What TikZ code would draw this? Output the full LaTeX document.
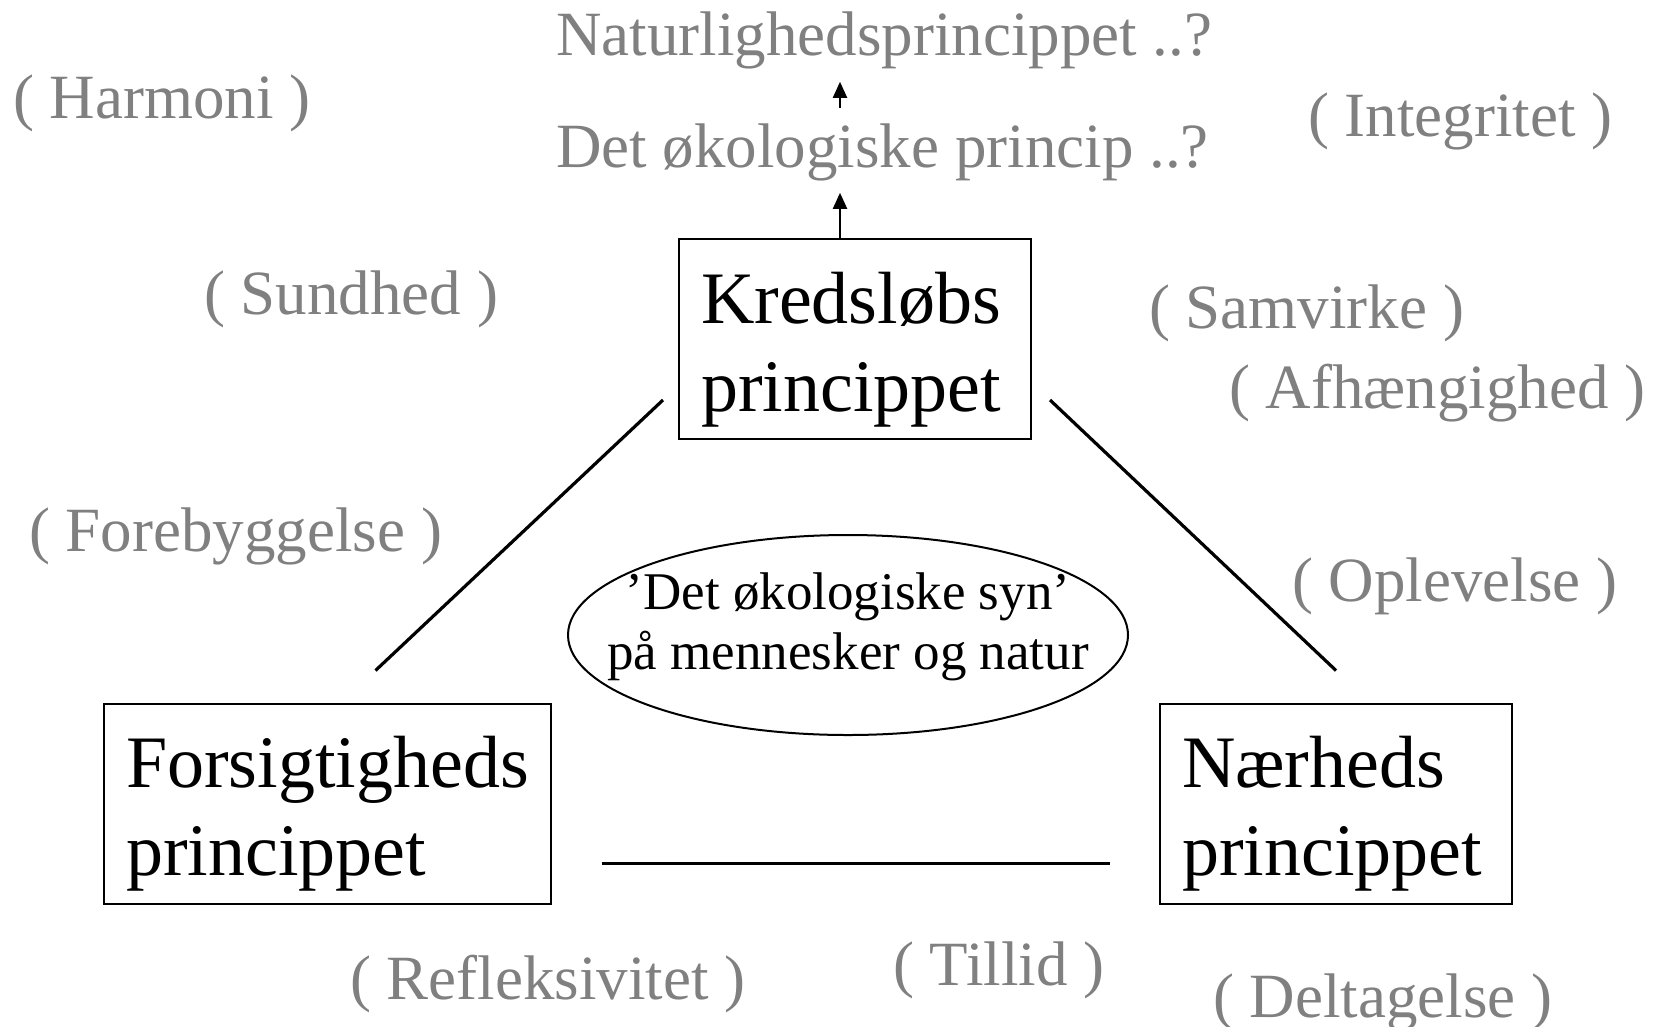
\documentclass[tikz,border=0pt]{standalone}
\usepackage{fontspec}
\setmainfont{Liberation Serif}
\usetikzlibrary{arrows.meta,calc}
\definecolor{ordgraa}{RGB}{128,128,128}
\setlength{\parindent}{0pt}

\begin{document}
\begin{tikzpicture}[x=1pt,y=-1pt,
  princip/.style={draw, line width=2pt, minimum height=200pt, inner ysep=0pt, inner xsep=22pt, align=left, font=\fontsize{74}{88}\selectfont},
  ord/.style={anchor=base west, inner sep=0pt, text=ordgraa, font=\fontsize{63}{70}\selectfont},
  linje/.style={line width=3.2pt},
  pil/.style={line width=2pt, -{Triangle[width=14pt,length=16pt]}}]
\useasboundingbox (0,0) rectangle (1661,1026);

% the three principles
\node[princip, text width=308pt] (kred) at (855,339) {\rule{0pt}{72pt}Kredsløbs\\princippet};
\node[princip, text width=403pt] (fors) at (327.5,803.5) {\rule{0pt}{72pt}Forsigtigheds\\princippet};
\node[princip, text width=308pt] (naer) at (1336,803.5) {\rule{0pt}{72pt}Nærheds\\princippet};

% centre
\node[inner sep=0pt, align=center, font=\fontsize{53}{60}\selectfont] (syn) at (848,635) {’Det økologiske syn’\\på mennesker og natur\rule[-28pt]{0pt}{0pt}};
\draw[line width=2pt] (syn.center) ellipse [x radius=280pt, y radius=100pt];

% top
\node[ord] (natur) at (556,55) {Naturlighedsprincippet ..?};
\node[ord] (oko) at (556,167) {Det økologiske princip ..?};

% grey words
\node[ord] (harmoni) at (13,118) {( Harmoni )};
\node[ord] (integritet) at (1308,136) {( Integritet )};
\node[ord] (sundhed) at (204,314) {( Sundhed )};
\node[ord] (samvirke) at (1149,328) {( Samvirke )};
\node[ord] (afhaeng) at (1229,408) {( Afhængighed )};
\node[ord] (forebyg) at (29,551) {( Forebyggelse )};
\node[ord] (oplev) at (1292,601) {( Oplevelse )};
\node[ord] (reflek) at (350,999) {( Refleksivitet )};
\node[ord] (tillid) at (893,985) {( Tillid )};
\node[ord] (delta) at (1213,1017) {( Deltagelse )};

% triangle
\draw[linje] ($(kred.south west)+(-15,-40)$) -- ($(fors.north)+(48,-32)$);
\draw[linje] ($(kred.south east)+(18,-40)$) -- ($(naer.north)+(0,-32)$);
\draw[linje] ($(fors.south east)+(50,-41)$) -- ($(naer.south west)+(-49,-41)$);

% arrows up
\coordinate (akse) at ($(kred.north)+(-15,0)$);
\draw[pil, shorten >=12pt] (akse) -- (akse |- oko.south);
\draw[pil, shorten <=15pt, shorten >=13pt] (akse |- oko.north) -- (akse |- natur.south);

\end{tikzpicture}
\end{document}
